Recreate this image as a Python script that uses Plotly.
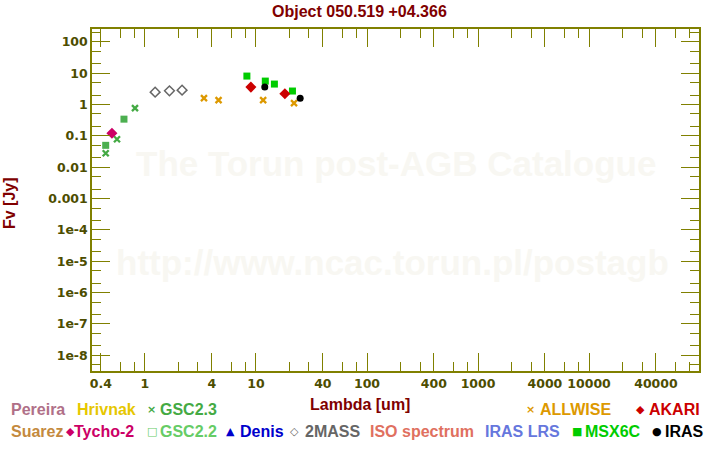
import plotly.graph_objects as go

# ---------------- data ----------------
title_text = "Object 050.519 +04.366"

gsc23_wl = [0.443, 0.56, 0.813]
gsc23_fl = [0.028, 0.0785, 0.767]

gsc22_wl = [0.443, 0.647]
gsc22_fl = [0.050, 0.342]

tycho_wl = [0.504]
tycho_fl = [0.122]

tmass_wl = [1.235, 1.662, 2.159]
tmass_fl = [2.49, 2.74, 2.88]

allwise_wl = [3.4, 4.6, 11.6, 22.0]
allwise_fl = [1.60, 1.38, 1.38, 1.11]

akari_wl = [9.0, 18.2]
akari_fl = [3.6, 2.2]

msx_wl = [8.28, 12.13, 14.65, 21.3]
msx_fl = [8.1, 5.6, 4.5, 2.7]

iras_wl = [12.0, 25.0]
iras_fl = [3.6, 1.6]

x_tick_vals = [0.4, 1, 4, 10, 40, 100, 400, 1000, 4000, 10000, 40000]
x_tick_text = ["0.4", "1", "4", "10", "40", "100", "400", "1000", "4000", "10000", "40000"]
x_minor_vals = [0.6, 0.8, 2, 3, 6, 8, 20, 30, 60, 80, 200, 300, 600, 800,
                2000, 3000, 6000, 8000, 20000, 30000, 60000, 80000]

y_tick_vals = [1e-8, 1e-7, 1e-6, 1e-5, 1e-4, 1e-3, 1e-2, 1e-1, 1, 10, 100]
y_tick_text = ["1e-8", "1e-7", "1e-6", "1e-5", "1e-4", "0.001", "0.01", "0.1", "1", "10", "100"]
y_minor_vals = [m * 10.0 ** e for e in range(-9, 3) for m in (2, 5)]

# ---------------- styling ----------------
W, H = 720, 450
L, R, T, B = 92, 21, 29, 79
PW, PH = W - L - R, H - T - B
AXIS = "#808000"
TICKLBL = "#4d4d00"
DARKRED = "#800000"
SANS = "Liberation Sans, Arial, sans-serif"
WATERMARK = "#f8f7f2"


def px(x):
    return (x - L) / PW


def py(y):
    return (H - B - y) / PH


fig = go.Figure()


def add(wl, fl, name, symbol, color, size, line=None):
    m = dict(symbol=symbol, color=color, size=size)
    if line:
        m["line"] = line
    else:
        m["line"] = dict(width=0)
    fig.add_trace(go.Scatter(x=wl, y=fl, mode="markers", name=name, marker=m,
                             showlegend=False, cliponaxis=False))


add(gsc22_wl, gsc22_fl, "GSC2.2", "square", "#4caf50", 7)
add(gsc23_wl, gsc23_fl, "GSC2.3", "x-thin", "#44aa44", 6, dict(width=2.3, color="#44aa44"))
add(tycho_wl, tycho_fl, "Tycho-2", "diamond", "#cc0066", 8.5)
add(tmass_wl, tmass_fl, "2MASS", "diamond-open", "#666666", 7.5, dict(width=1.5, color="#666666"))
add(allwise_wl, allwise_fl, "ALLWISE", "x-thin", "#dd9900", 6, dict(width=2.3, color="#dd9900"))
add(msx_wl, msx_fl, "MSX6C", "square", "#00cc00", 7)
add(akari_wl, akari_fl, "AKARI", "diamond", "#cc0000", 8.5)
add(iras_wl, iras_fl, "IRAS", "circle", "#000000", 7)

ann = []
# watermark
ann.append(dict(text="The Torun post-AGB Catalogue", x=px(396), y=py(163), xref="paper", yref="paper",
                showarrow=False, xanchor="center", yanchor="middle",
                font=dict(family=SANS, size=35, color=WATERMARK, weight="bold")))
ann.append(dict(text="http://www.ncac.torun.pl/postagb", x=px(392), y=py(262), xref="paper", yref="paper",
                showarrow=False, xanchor="center", yanchor="middle",
                font=dict(family=SANS, size=35, color=WATERMARK, weight="bold")))
# title and axis titles
ann.append(dict(text=title_text, x=px(359), y=py(11), xref="paper", yref="paper",
                showarrow=False, xanchor="center", yanchor="middle",
                font=dict(family=SANS, size=16, color=DARKRED, weight="bold")))
ann.append(dict(text="Lambda [um]", x=px(360), y=py(404), xref="paper", yref="paper",
                showarrow=False, xanchor="center", yanchor="middle",
                font=dict(family=SANS, size=16, color=DARKRED, weight="bold")))
ann.append(dict(text="Fv [Jy]", x=px(9), y=py(203), xref="paper", yref="paper", textangle=-90,
                showarrow=False, xanchor="center", yanchor="middle",
                font=dict(family=SANS, size=16, color=DARKRED, weight="bold")))

# legend (text + glyph), rows at y=410 and y=431
legend_items = [
    # (x, y, text, color, is_symbol)
    (10, 410, "Pereira", "#b07088", False),
    (76, 410, "Hrivnak", "#e6c700", False),
    (146, 410, "×", "#44aa44", True),
    (159, 410, "GSC2.3", "#44aa44", False),
    (525, 410, "×", "#dd9900", True),
    (539, 410, "ALLWISE", "#dd9900", False),
    (635, 410, "◆", "#cc0000", True),
    (648, 410, "AKARI", "#cc0000", False),
    (10, 431, "Suarez", "#c48a3e", False),
    (65, 431, "◆", "#cc0066", True),
    (73, 431, "Tycho-2", "#cc0066", False),
    (146, 431, "□", "#66cc66", True),
    (159, 431, "GSC2.2", "#66cc66", False),
    (225, 431, "▲", "#0000cc", True),
    (239, 431, "Denis", "#0000cc", False),
    (289, 431, "◇", "#666666", True),
    (304, 431, "2MASS", "#666666", False),
    (369, 431, "ISO spectrum", "#e07060", False),
    (484, 431, "IRAS LRS", "#6677dd", False),
    (571, 431, "■", "#00cc00", True),
    (584, 431, "MSX6C", "#00cc00", False),
    (651, 431, "●", "#000000", True),
    (664, 431, "IRAS", "#000000", False),
]
for x, y, t, c, sym in legend_items:
    if sym:
        f = dict(family="DejaVu Sans", size=11, color=c, weight="bold")
    else:
        f = dict(family=SANS, size=16, color=c, weight="bold")
    ann.append(dict(text=t, x=px(x), y=py(y), xref="paper", yref="paper", showarrow=False,
                    xanchor="left", yanchor="middle", font=f, borderpad=0))

axis_common = dict(
    type="log", showgrid=False, zeroline=False, showline=True, linecolor=AXIS, linewidth=1.5,
    mirror="ticks", ticks="inside", ticklen=18, tickwidth=1, tickcolor=AXIS,
    tickfont=dict(family="DejaVu Sans", size=12.5, color=TICKLBL, weight="bold"),
    tickmode="array",
)

fig.update_layout(
    width=W, height=H, autosize=False,
    margin=dict(l=L, r=R, t=T, b=B, pad=0),
    paper_bgcolor="white", plot_bgcolor="white",
    showlegend=False,
    xaxis=dict(axis_common, range=[-0.477, 4.99], tickvals=x_tick_vals, ticktext=x_tick_text,
               minor=dict(tickmode="array", tickvals=x_minor_vals, ticks="inside", ticklen=9,
                          tickwidth=1, tickcolor=AXIS, showgrid=False)),
    yaxis=dict(axis_common, range=[-8.5, 2.41], tickvals=y_tick_vals, ticktext=y_tick_text,
               minor=dict(tickmode="array", tickvals=y_minor_vals, ticks="inside", ticklen=9,
                          tickwidth=1, tickcolor=AXIS, showgrid=False)),
    annotations=ann,
)

fig.write_html("out.html")
